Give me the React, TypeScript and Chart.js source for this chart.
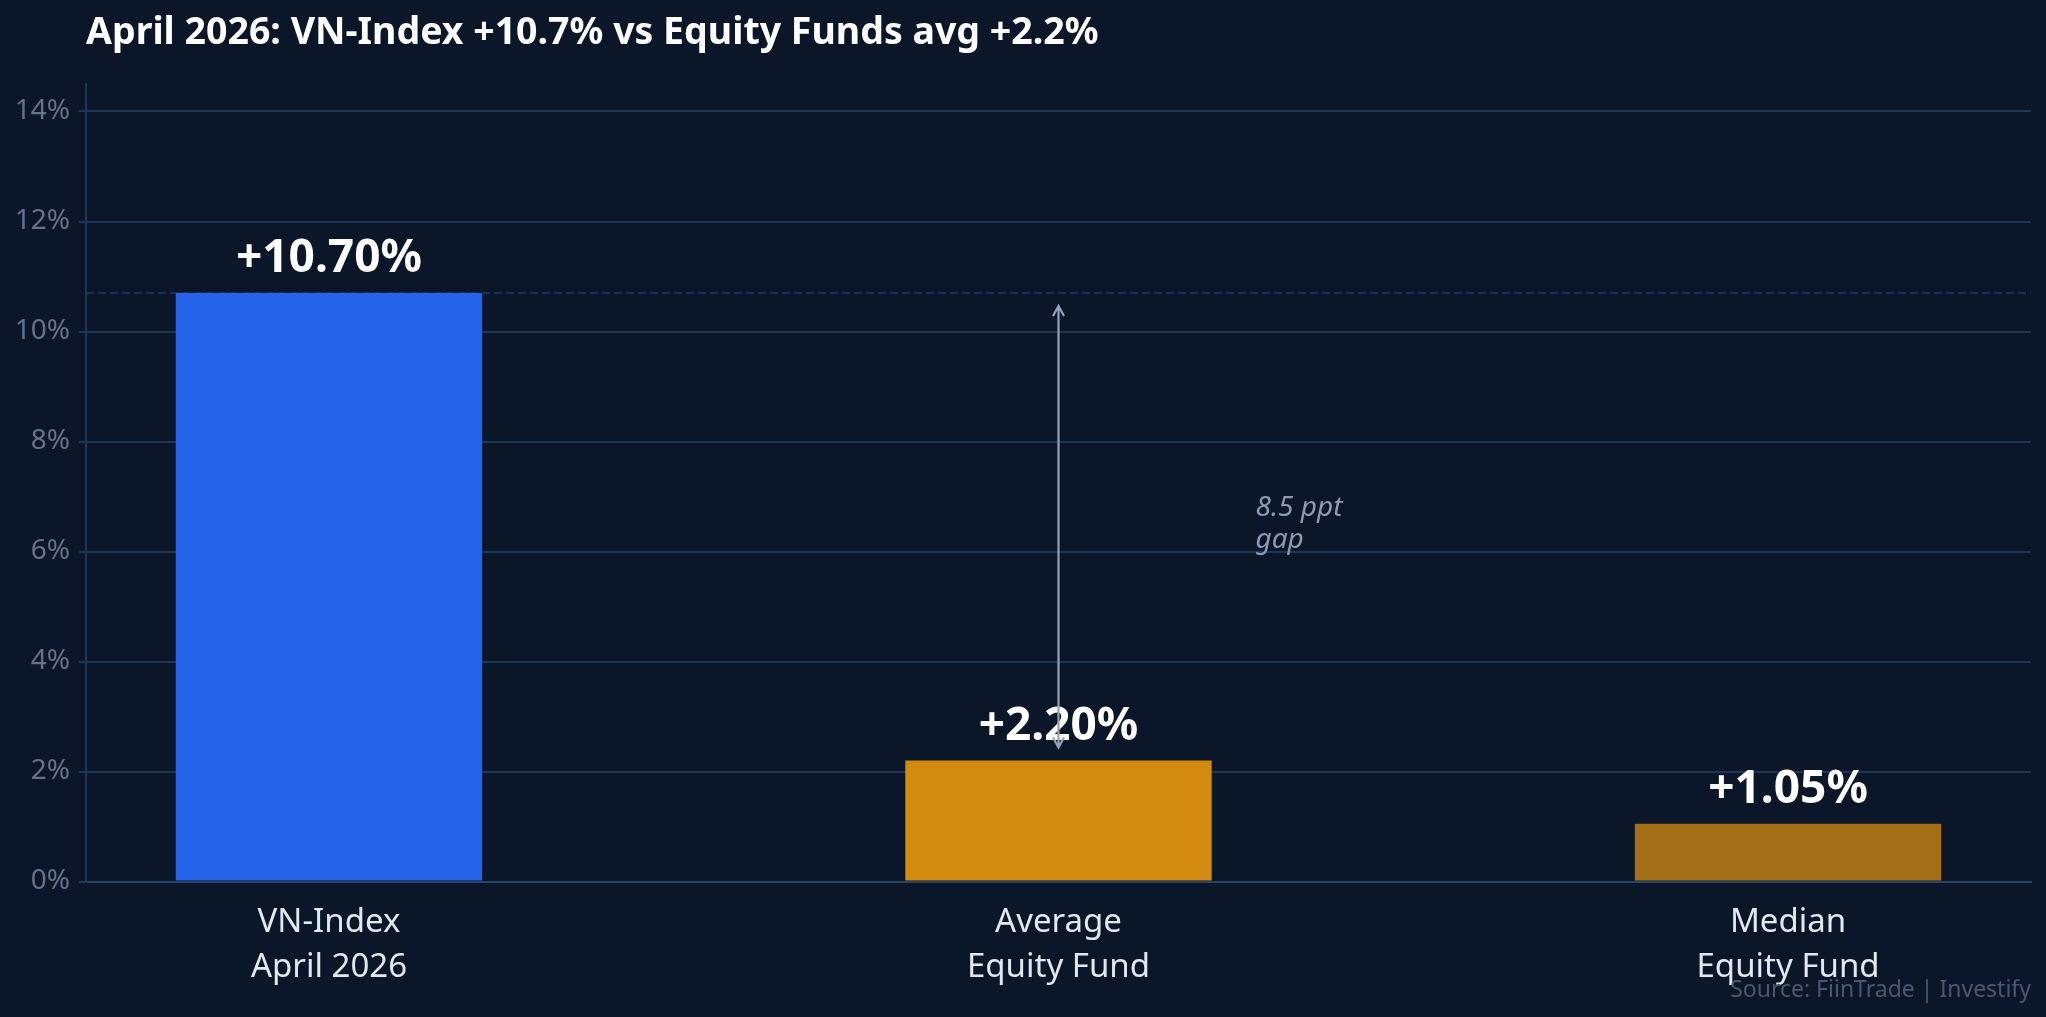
import { useEffect, useRef } from 'react'
import { Chart, registerables } from 'chart.js'

Chart.register(...registerables)

const categories = [['VN-Index', 'April 2026'], ['Average', 'Equity Fund'], ['Median', 'Equity Fund']]
const returns = [10.7, 2.2, 1.05]
const barColors = ['#2563eb', '#d28a0f', '#a36e15']
const yTicks = [0, 2, 4, 6, 8, 10, 12, 14]
const title = 'April 2026: VN-Index +10.7% vs Equity Funds avg +2.2%'
const source = 'Source: FiinTrade | Investify'

const BG = '#0b1628'
const FONT = '"Noto Sans", "DejaVu Sans", sans-serif'

const overlay = {
  id: 'overlay',
  beforeDatasetsDraw(chart: any) {
    const { ctx, chartArea, scales } = chart
    const y = scales.y.getPixelForValue(returns[0])
    ctx.save()
    ctx.strokeStyle = '#17315f'
    ctx.lineWidth = 2
    ctx.setLineDash([8, 4])
    ctx.beginPath()
    ctx.moveTo(chartArea.left, y)
    ctx.lineTo(chartArea.right, y)
    ctx.stroke()
    ctx.restore()
  },
  afterDatasetsDraw(chart: any) {
    const { ctx, scales } = chart
    const meta = chart.getDatasetMeta(0)
    ctx.save()
    // value labels above bars
    ctx.font = `bold 46px ${FONT}`
    ctx.textAlign = 'center'
    ctx.textBaseline = 'alphabetic'
    ctx.fillStyle = '#ffffff'
    meta.data.forEach((bar: any, i: number) => {
      ctx.fillText(`+${returns[i].toFixed(2)}%`, bar.x, bar.y - 21)
    })

    // gap arrow between index and average fund
    const ax = meta.data[1].x
    const yTop = scales.y.getPixelForValue(returns[0]) + 13
    const yBot = scales.y.getPixelForValue(returns[1]) - 13
    ctx.strokeStyle = '#94a3b8'
    ctx.lineWidth = 2.2
    ctx.beginPath()
    ctx.moveTo(ax, yTop)
    ctx.lineTo(ax, yBot)
    ctx.moveTo(ax - 5.5, yTop + 10)
    ctx.lineTo(ax, yTop)
    ctx.lineTo(ax + 5.5, yTop + 10)
    ctx.moveTo(ax - 5.5, yBot - 10)
    ctx.lineTo(ax, yBot)
    ctx.lineTo(ax + 5.5, yBot - 10)
    ctx.stroke()

    const tx = scales.x.getPixelForValue(1.27)
    const ym = scales.y.getPixelForValue((returns[0] + returns[1]) / 2)
    ctx.font = `italic 28px ${FONT}`
    ctx.fillStyle = '#8b9bb4'
    ctx.textAlign = 'left'
    ctx.fillText(`${(returns[0] - returns[1]).toFixed(1)} ppt`, tx, ym - 11)
    ctx.fillText('gap', tx, ym + 21)
    ctx.restore()
  },
  afterDraw(chart: any) {
    const { ctx, chartArea } = chart
    ctx.save()
    ctx.font = `bold 37.5px ${FONT}`
    ctx.fillStyle = '#ffffff'
    ctx.textAlign = 'left'
    ctx.textBaseline = 'alphabetic'
    ctx.fillText(title, chartArea.left, 44)
    ctx.font = `23px ${FONT}`
    ctx.fillStyle = '#4a5870'
    ctx.textAlign = 'right'
    ctx.fillText(source, chartArea.right, 997)
    ctx.restore()
  },
}

export default function App() {
  const chartRef = useRef<HTMLCanvasElement>(null)

  useEffect(() => {
    document.body.style.margin = '0'
    document.body.style.background = BG
    if (!chartRef.current) return
    const existing = Chart.getChart(chartRef.current)
    if (existing) existing.destroy()

    const chart = new Chart(chartRef.current, {
      type: 'bar',
      data: {
        datasets: [{
          data: returns.map((v, i) => ({ x: i, y: v })),
          backgroundColor: barColors,
          borderWidth: 0,
          categoryPercentage: 1,
          barPercentage: 0.42,
        }],
      },
      options: {
        animation: false,
        responsive: false,
        devicePixelRatio: 1,
        layout: { padding: { top: 84, right: 15, left: 0, bottom: 0 } },
        plugins: { legend: { display: false }, tooltip: { enabled: false } },
        scales: {
          x: {
            type: 'linear',
            offset: false,
            min: -0.333,
            max: 2.333,
            afterBuildTicks: (s: any) => { s.ticks = categories.map((_, i) => ({ value: i })) },
            afterFit: (s: any) => { s.height = 135.5 },
            ticks: {
              callback: (v: any) => categories[v],
              color: '#e2e8f0',
              font: { size: 33, family: FONT, lineHeight: 1.37 },
              padding: 10,
              autoSkip: false,
              maxRotation: 0,
            },
            grid: { display: false, offset: false },
            border: { color: '#2a4468', width: 2 },
          },
          y: {
            min: 0,
            max: 14.5,
            afterBuildTicks: (s: any) => { s.ticks = yTicks.map(v => ({ value: v })) },
            afterFit: (s: any) => { s.width = 86 },
            ticks: {
              callback: (v: any) => `${v}%`,
              color: '#64748b',
              font: { size: 28, family: FONT },
              padding: 9,
            },
            grid: { color: '#1d3657', lineWidth: 2, tickLength: 7 },
            border: { color: '#1d3657', width: 2 },
          },
        },
      },
      plugins: [overlay],
    } as any)

    return () => { chart.destroy() }
  }, [])

  return (
    <div style={{ width: 2046, height: 1017, background: BG }}>
      <canvas ref={chartRef} width={2046} height={1017} style={{ display: 'block' }} />
    </div>
  )
}
